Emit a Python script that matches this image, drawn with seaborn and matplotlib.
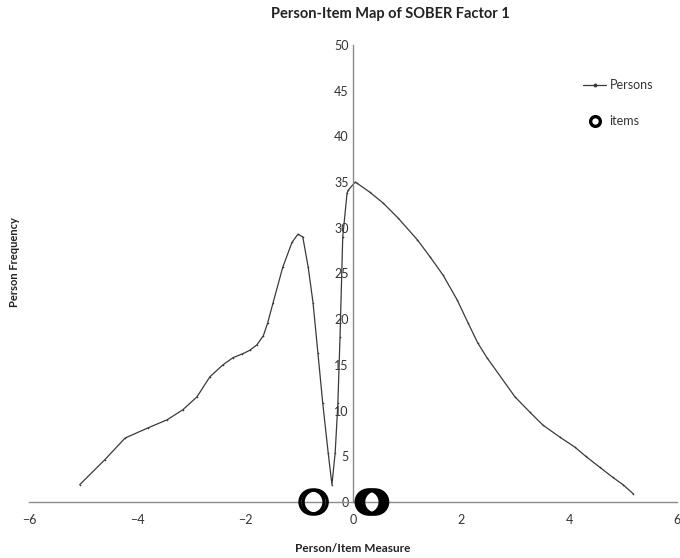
import matplotlib
matplotlib.use("Agg")
import matplotlib.pyplot as plt
import seaborn as sns
import pandas as pd
from matplotlib.lines import Line2D

# ---- data ----
person_measure = [-5.06, -4.60, -4.22, -3.80, -3.44, -3.15, -2.89, -2.65, -2.41,
                  -2.22, -2.05, -1.91, -1.78, -1.66, -1.58, -1.48, -1.30, -1.13,
                  -1.02, -0.93, -0.83, -0.74, -0.65, -0.56, -0.46, -0.39, -0.33,
                  -0.28, -0.24, -0.19, -0.11, -0.09, 0.04, 0.07, 0.31, 0.56,
                  0.83, 1.19, 1.43, 1.67, 1.93, 2.13, 2.31, 2.48,
                  3.00, 3.28, 3.52, 3.83, 4.11, 4.31, 4.57, 4.81, 5.00, 5.19]
person_freq = [1.9, 4.6, 7.0, 8.1, 9.0, 10.1, 11.5, 13.7, 15.0,
               15.8, 16.2, 16.6, 17.2, 18.2, 19.6, 21.8, 25.7, 28.4,
               29.3, 29.0, 25.7, 21.8, 16.3, 10.8, 5.4, 1.9, 5.4,
               10.8, 18.1, 29.0, 33.8, 34.1, 35.0, 34.9, 33.9, 32.7,
               31.1, 28.7, 26.8, 24.8, 22.1, 19.6, 17.4, 15.8,
               11.5, 9.8, 8.4, 7.1, 6.0, 5.0, 3.8, 2.7, 1.9, 0.9]
item_measure = [-0.76, -0.70, 0.28, 0.32, 0.37, 0.42]
item_freq = [0, 0, 0, 0, 0, 0]

x_ticks = [-6, -4, -2, 0, 2, 4, 6]
y_ticks = [0, 5, 10, 15, 20, 25, 30, 35, 40, 45, 50]

persons = pd.DataFrame({"measure": person_measure, "freq": person_freq})
items = pd.DataFrame({"measure": item_measure, "freq": item_freq})

sns.set_style("white")
plt.rcParams["font.family"] = ["Lato", "DejaVu Sans"]

fig = plt.figure(figsize=(6.8, 5.58), dpi=100)
ax = fig.add_axes([29 / 680, 56 / 558, 648 / 680, 457 / 558])

sns.lineplot(data=persons, x="measure", y="freq", ax=ax, color="#3a3a3a",
             linewidth=0.9, marker="o", markersize=1.2, sort=False,
             markeredgewidth=0, label="Persons", legend=False)
sns.scatterplot(data=items, x="measure", y="freq", ax=ax, s=300,
                facecolor="none", edgecolor="black", linewidth=2.3,
                label="items", legend=False, clip_on=False, zorder=5)

ax.set_xlim(-6, 6)
ax.set_ylim(0, 50)
ax.set_xticks(x_ticks)
ax.set_yticks(y_ticks)
ax.spines["left"].set_position(("data", 0))
for s in ["top", "right"]:
    ax.spines[s].set_visible(False)
for s in ["left", "bottom"]:
    ax.spines[s].set_color("#8c8c8c")
    ax.spines[s].set_linewidth(1.0)
ax.tick_params(axis="both", length=0, labelsize=9, colors="#333333")
ax.tick_params(axis="x", pad=9)
ax.tick_params(axis="y", pad=3)
ax.set_xlabel("")
ax.set_ylabel("")

fig.text(390 / 680, 1 - 14 / 558, "Person-Item Map of SOBER Factor 1",
         ha="center", va="center", fontsize=10.5, fontweight="bold", color="#222222")
fig.text(353 / 680, 1 - 548 / 558, "Person/Item Measure", ha="center",
         va="center", fontsize=8.5, fontweight="bold", color="#222222")
fig.text(15 / 680, 1 - 262 / 558, "Person Frequency", ha="center",
         va="center", rotation=90, fontsize=8, fontweight="bold", color="#222222")

handles = [Line2D([0], [0], color="#3a3a3a", lw=0.9, marker="o", markersize=1.8),
           Line2D([0], [0], color="black", lw=0, marker="o", markersize=7,
                  markerfacecolor="none", markeredgewidth=2.4)]
fig.legend(handles, ["Persons", "items"], loc="upper left",
           bbox_to_anchor=(572 / 680, 1 - 68 / 558), frameon=False,
           fontsize=9, handlelength=1.8, handletextpad=0.3, labelspacing=1.9,
           labelcolor="#333333")

fig.savefig("out.png", dpi=100)
